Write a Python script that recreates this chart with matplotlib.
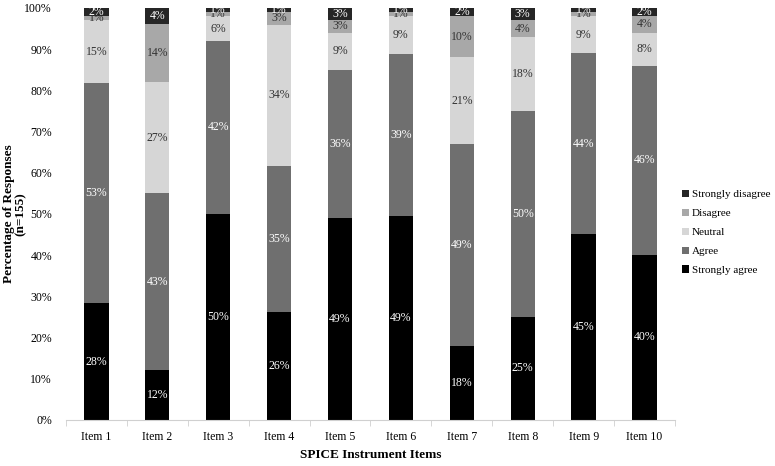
import matplotlib.pyplot as plt
import numpy as np

items = ["Item 1", "Item 2", "Item 3", "Item 4", "Item 5",
         "Item 6", "Item 7", "Item 8", "Item 9", "Item 10"]
strongly_agree = [28, 12, 50, 26, 49, 49, 18, 25, 45, 40]
agree = [53, 43, 42, 35, 36, 39, 49, 50, 44, 46]
neutral = [15, 27, 6, 34, 9, 9, 21, 18, 9, 8]
disagree = [1, 14, 1, 3, 3, 1, 10, 4, 1, 4]
strongly_disagree = [2, 4, 1, 1, 3, 1, 2, 3, 1, 2]

plt.rcParams['font.family'] = ['Liberation Serif', 'DejaVu Serif']

series = [
    ("Strongly agree", strongly_agree, "#000000", "white"),
    ("Agree", agree, "#6f6f6f", "white"),
    ("Neutral", neutral, "#d6d6d6", "#333333"),
    ("Disagree", disagree, "#a8a8a8", "#333333"),
    ("Strongly disagree", strongly_disagree, "#262626", "white"),
]

vals = np.array([s[1] for s in series], dtype=float)
# rounded percentages don't always add to 100, so scale each bar to fill
totals = vals.sum(axis=0)
scaled = vals / totals * 100

fig = plt.figure(figsize=(7.75, 4.66), dpi=100)
ax = fig.add_axes([0.085, 0.099, 0.786, 0.884])

x = np.arange(len(items))
bottom = np.zeros(len(items))
handles = []
for i, (name, raw, color, tcolor) in enumerate(series):
    h = ax.bar(x, scaled[i], 0.4, bottom=bottom, color=color, label=name)
    handles.append(h)
    for j in range(len(items)):
        ax.text(x[j], bottom[j] + scaled[i][j] / 2, f"{raw[j]}%",
                ha="center", va="center", fontsize=8.5, color=tcolor)
    bottom += scaled[i]

ax.set_xlim(-0.5, len(items) - 0.5)
ax.set_ylim(0, 100)
ax.set_yticks(range(0, 101, 10))
ax.set_yticklabels([f"{v}%" for v in range(0, 101, 10)])
ax.set_xticks(x)
ax.set_xticklabels(items)
ax.set_xticks(np.arange(-0.5, len(items)), minor=True)
ax.tick_params(axis="x", which="major", length=0, labelsize=8.5, pad=8)
ax.tick_params(axis="x", which="minor", length=4, color="#d0d0d0")
ax.tick_params(axis="y", length=0, labelsize=8.5, pad=10)

for side in ["top", "right", "left"]:
    ax.spines[side].set_visible(False)
ax.spines["bottom"].set_color("#d0d0d0")

ax.set_xlabel("SPICE Instrument Items", fontsize=9.5, fontweight="bold")
ax.xaxis.set_label_coords(0.5, -0.07)
ax.set_ylabel("Percentage of Responses\n(n=155)", fontsize=9.5, fontweight="bold",
              linespacing=1.0)
ax.yaxis.set_label_coords(-0.064, 0.5)

ax.legend(handles[::-1], [s[0] for s in series][::-1], loc="center left",
          bbox_to_anchor=(0.995, 0.455), frameon=False, fontsize=8,
          handlelength=0.6, handleheight=0.6, handletextpad=0.3, labelspacing=0.85)

fig.savefig("out.png", dpi=100)
